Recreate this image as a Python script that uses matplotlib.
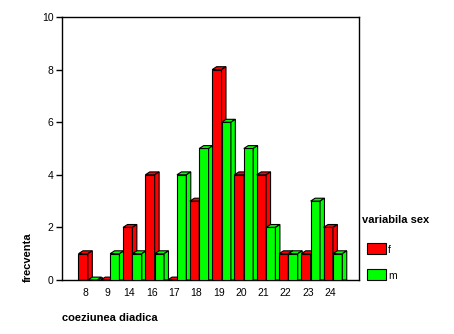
import matplotlib
matplotlib.use("Agg")
import matplotlib.pyplot as plt
from matplotlib.patches import Polygon, Rectangle

plt.rcParams['font.family'] = ['Liberation Sans', 'DejaVu Sans']

# frecvente pe categorii, separat pe sex
categorii = ['8', '9', '14', '16', '17', '18', '19', '20', '21', '22', '23', '24']
val_f = [1, 0, 2, 4, 0, 3, 8, 4, 4, 1, 1, 2]
val_m = [0, 1, 1, 1, 4, 5, 6, 5, 2, 1, 3, 1]
serii = ['f', 'm']
culori = ['#ff0000', '#00ff00']

fig = plt.figure(figsize=(4.54, 3.34), dpi=100)
ax = fig.add_axes([62 / 454, 1 - 280 / 334, 297 / 454, 263 / 334])

lat = 0.42      # latimea fetei din fata
dx, dy = 0.2, 0.11   # adancimea efectului 3D


def bara3d(ax, x0, h, culoare, z):
    # fata din fata
    ax.add_patch(Rectangle((x0, 0), lat, h, facecolor=culoare,
                           edgecolor='black', linewidth=0.8, zorder=z))
    # capacul de sus
    ax.add_patch(Polygon([(x0, h), (x0 + dx, h + dy), (x0 + lat + dx, h + dy),
                          (x0 + lat, h)], closed=True, facecolor=culoare,
                         edgecolor='black', linewidth=0.8, zorder=z))
    # fata laterala
    ax.add_patch(Polygon([(x0 + lat, 0), (x0 + lat + dx, 0),
                          (x0 + lat + dx, h + dy), (x0 + lat, h)], closed=True,
                         facecolor=culoare, edgecolor='black', linewidth=0.8,
                         zorder=z))


z = 2
for i in range(len(categorii)):
    bara3d(ax, i - 0.29, val_f[i], culori[0], z)
    bara3d(ax, i + 0.13, val_m[i], culori[1], z + 1)
    z += 2

ax.set_xlim(-1.03, 12.3)
ax.set_ylim(0, 10)
ax.set_xticks(range(len(categorii)))
ax.set_xticklabels(categorii)
ax.set_yticks([0, 2, 4, 6, 8, 10])
ax.tick_params(axis='x', length=0, labelsize=7.5, pad=6)
ax.tick_params(axis='y', length=4, width=1, labelsize=7.5, pad=2)
for s in ax.spines.values():
    s.set_linewidth(1)

fig.text(28 / 454, 1 - 282 / 334, 'frecventa', rotation=90, ha='center',
         va='bottom', fontsize=8, fontweight='bold')
fig.text(62 / 454, 1 - 318 / 334, 'coeziunea diadica', ha='left',
         va='center', fontsize=8, fontweight='bold')

# legenda
fig.text(362 / 454, 1 - 220 / 334, 'variabila sex', ha='left', va='center',
         fontsize=8, fontweight='bold')
for k, (nume, cul) in enumerate(zip(serii, culori)):
    y0 = 254 + 26 * k
    fig.add_artist(Rectangle((367 / 454, 1 - y0 / 334), 19 / 454, 11 / 334,
                             transform=fig.transFigure, facecolor=cul,
                             edgecolor='black', linewidth=0.8))
    fig.text(388 / 454, 1 - (y0 - 4) / 334, nume, ha='left', va='center',
             fontsize=7.5)

fig.savefig('out.png', dpi=100)
